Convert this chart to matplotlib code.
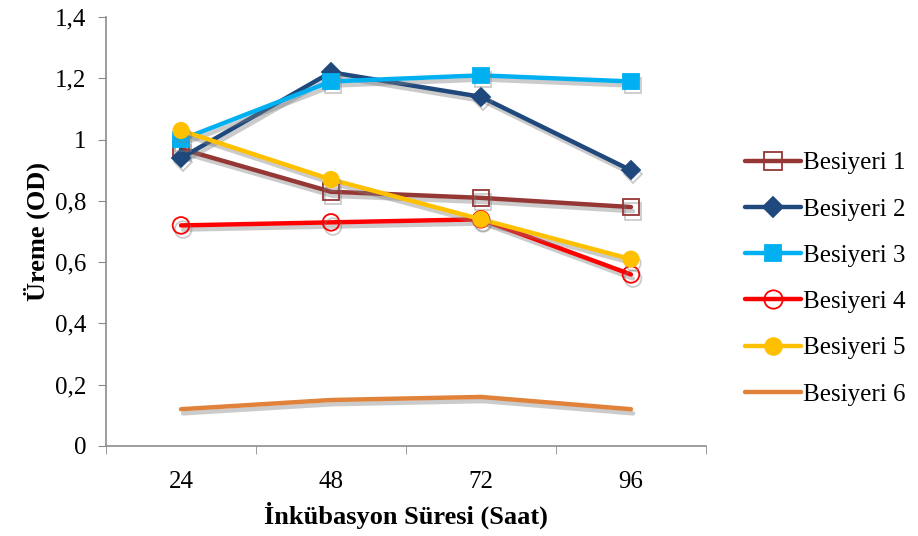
import matplotlib.pyplot as plt
import matplotlib.patheffects as pe
from matplotlib.ticker import FuncFormatter, FixedLocator
from matplotlib.lines import Line2D
import matplotlib as mpl

mpl.rcParams['font.family'] = ['Liberation Serif', 'DejaVu Serif']

hours = ['24', '48', '72', '96']
besiyeri_1 = [0.97, 0.83, 0.81, 0.78]
besiyeri_2 = [0.94, 1.22, 1.14, 0.90]
besiyeri_3 = [1.00, 1.19, 1.21, 1.19]
besiyeri_4 = [0.72, 0.73, 0.74, 0.56]
besiyeri_5 = [1.03, 0.87, 0.74, 0.61]
besiyeri_6 = [0.12, 0.15, 0.16, 0.12]

series = [
    ('Besiyeri 1', besiyeri_1, '#953735', 's', 'none', 12),
    ('Besiyeri 2', besiyeri_2, '#1F497D', 'D', '#1F497D', 9),
    ('Besiyeri 3', besiyeri_3, '#00B0F0', 's', '#00B0F0', 11),
    ('Besiyeri 4', besiyeri_4, '#FF0000', 'o', 'none', 12),
    ('Besiyeri 5', besiyeri_5, '#FFC000', 'o', '#FFC000', 11),
    ('Besiyeri 6', besiyeri_6, '#E0823A', None, None, 0),
]

fig = plt.figure(figsize=(9.18, 5.36), dpi=100)
ax = fig.add_axes([0.1155, 0.168, 0.6535, 0.80])

x = list(range(len(hours)))
shadow = [pe.SimpleLineShadow(offset=(1.5, -3), shadow_color='#7f7f7f', alpha=0.4), pe.Normal()]
handles = []
for name, vals, col, mk, fc, ms in series:
    style = dict(color=col, lw=3.2, solid_capstyle='round')
    if mk is not None:
        style.update(marker=mk, markersize=ms, markerfacecolor=fc,
                     markeredgecolor=col, markeredgewidth=1.3)
    ax.plot(x, vals, path_effects=shadow, **style)
    # legend keys are drawn flat, without the drop shadow
    handles.append(Line2D([], [], label=name, **style))

ax.set_xlim(-0.5, len(hours) - 0.5)
ax.set_ylim(0, 1.4)
ax.set_xticks(x)
ax.set_xticklabels(hours)
ax.xaxis.set_minor_locator(FixedLocator([i - 0.5 for i in range(len(hours) + 1)]))
ax.tick_params(axis='x', which='major', length=0, labelsize=18, pad=18)
ax.tick_params(axis='x', which='minor', length=6, color='#8c8c8c', direction='out')
ax.set_yticks([0, 0.2, 0.4, 0.6, 0.8, 1.0, 1.2, 1.4])
ax.yaxis.set_major_formatter(FuncFormatter(lambda v, p: ('%g' % round(v, 1)).replace('.', ',')))
ax.tick_params(axis='y', length=6, color='#8c8c8c', labelsize=18, pad=8)

for s in ['top', 'right']:
    ax.spines[s].set_visible(False)
for s in ['left', 'bottom']:
    ax.spines[s].set_color('#8c8c8c')
    ax.spines[s].set_linewidth(1.2)

ax.set_xlabel('İnkübasyon Süresi (Saat)', fontsize=19, fontweight='bold', labelpad=6)
ax.set_ylabel('Üreme (OD)', fontsize=19, fontweight='bold', labelpad=4)

ax.legend(handles=handles, loc='center left', bbox_to_anchor=(1.048, 0.39), frameon=False,
          fontsize=18, handlelength=2.25, handletextpad=0.1, labelspacing=0.95,
          borderaxespad=0, markerscale=1.1)

fig.savefig('out.png', dpi=100)
